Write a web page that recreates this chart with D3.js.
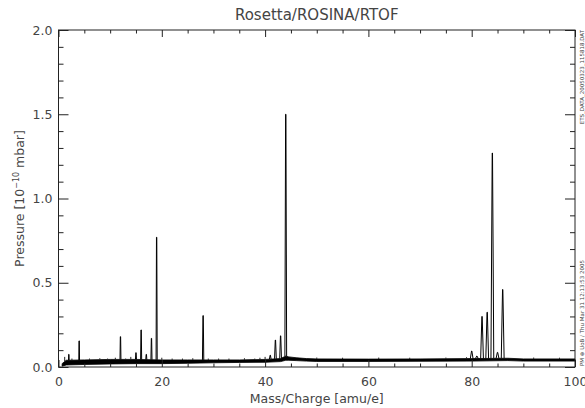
<!DOCTYPE html>
<html>
<head>
<meta charset="utf-8">
<title>Rosetta/ROSINA/RTOF</title>
<script src="https://cdn.jsdelivr.net/npm/d3@7"></script>
<style>
  body { margin: 0; background: #fff; }
  svg text { font-family: "DejaVu Sans", sans-serif; fill: #444; }
</style>
</head>
<body>
<script>
    // baseline noise band (mass, lower edge, upper edge)
    var baseMass = [0.7, 1.5, 5, 10, 15, 20, 25, 30, 35, 40, 43, 44, 44.6, 46, 48, 50, 60, 70, 80, 87, 90, 100];
    var baseLo   = [0.005, 0.012, 0.015, 0.018, 0.02, 0.02, 0.022, 0.025, 0.027, 0.028, 0.032, 0.04, 0.04, 0.038, 0.035, 0.033, 0.033, 0.034, 0.035, 0.038, 0.035, 0.035];
    var baseHi   = [0.02, 0.04, 0.042, 0.045, 0.045, 0.042, 0.042, 0.042, 0.042, 0.045, 0.05, 0.065, 0.06, 0.055, 0.05, 0.048, 0.047, 0.048, 0.05, 0.052, 0.048, 0.048];

    // main peaks
    var peakMass   = [2, 4, 12, 15, 16, 17, 18, 19, 28, 41, 42, 43, 44, 80, 81, 82, 83, 84, 85, 86];
    var peakHeight = [0.075, 0.155, 0.18, 0.085, 0.22, 0.075, 0.17, 0.77, 0.305, 0.07, 0.16, 0.185, 1.5, 0.095, 0.065, 0.30, 0.325, 1.27, 0.087, 0.46];

    // small noise spikes sticking out of the baseline
    var spikeMass   = [1.2, 2.6, 6, 8, 9.5, 11, 13, 14, 20, 22, 24, 26, 29, 31, 33, 36, 38, 39, 40, 50, 55, 62, 68, 75, 79, 92, 97];
    var spikeHeight = [0.06, 0.05, 0.05, 0.052, 0.05, 0.055, 0.05, 0.06, 0.055, 0.05, 0.05, 0.052, 0.05, 0.05, 0.05, 0.052, 0.05, 0.055, 0.06, 0.056, 0.055, 0.056, 0.055, 0.056, 0.058, 0.056, 0.055];

    var xMajor = [0, 20, 40, 60, 80, 100];
    var yMajor = [0, 0.5, 1.0, 1.5, 2.0];

    var svgWidth = 585, svgHeight = 408;
    var plotLeft = 58.5, plotRight = 575, plotTop = 30, plotBottom = 367;

    var x = d3.scaleLinear().domain([0, 100]).range([plotLeft, plotRight]);
    var y = d3.scaleLinear().domain([0, 2]).range([plotBottom, plotTop]);

    var svg = d3.select("body").append("svg")
        .attr("width", svgWidth)
        .attr("height", svgHeight);

    var xMinor = d3.range(0, 101, 5).filter(function(d) { return d % 20 !== 0; });
    var yMinor = d3.range(0, 21).map(function(d) { return d / 10; })
        .filter(function(d) { return Math.round(d * 10) % 5 !== 0; });

    function baseAt(m, arr) {
        return d3.scaleLinear().domain(baseMass).range(arr)(m);
    }

    // baseline band
    var band = d3.area()
        .x(function(d, i) { return x(baseMass[i]); })
        .y0(function(d, i) { return y(baseLo[i]); })
        .y1(function(d, i) { return y(baseHi[i]); });
    svg.append("path")
        .attr("d", band(baseMass))
        .attr("fill", "#000")
        .attr("stroke", "#000")
        .attr("stroke-width", 0.8);

    // spikes
    svg.append("g").selectAll("line")
        .data(spikeMass)
        .enter().append("line")
        .attr("x1", function(d) { return x(d); })
        .attr("x2", function(d) { return x(d); })
        .attr("y1", function(d) { return y(baseAt(d, baseHi)); })
        .attr("y2", function(d, i) { return y(spikeHeight[i]); })
        .attr("stroke", "#222")
        .attr("stroke-width", 1);

    // peaks
    var line = d3.line().x(function(d) { return x(d[0]); }).y(function(d) { return y(d[1]); });
    svg.append("g").selectAll("path")
        .data(peakMass)
        .enter().append("path")
        .attr("d", function(m, i) {
            var w = 0.06 + 0.0025 * m;
            var b = baseAt(m, baseHi);
            return line([[m - w, b], [m - 0.03, peakHeight[i]], [m + 0.03, peakHeight[i]], [m + w, b]]);
        })
        .attr("fill", "none")
        .attr("stroke", "#000")
        .attr("stroke-width", 1);

    // frame
    svg.append("rect")
        .attr("x", plotLeft).attr("y", plotTop)
        .attr("width", plotRight - plotLeft).attr("height", plotBottom - plotTop)
        .attr("fill", "none").attr("stroke", "#222").attr("stroke-width", 1);

    function styleAxis(g) {
        g.select(".domain").remove();
        g.selectAll("line").attr("stroke", "#222");
        g.selectAll("text").attr("font-size", 12.5).attr("font-family", "DejaVu Sans").attr("fill", "#444");
    }

    // bottom / top x axes
    svg.append("g").attr("transform", "translate(0," + plotBottom + ")")
        .call(d3.axisBottom(x).tickValues(xMajor).tickSize(-7).tickPadding(10).tickFormat(d3.format("d")))
        .call(styleAxis);
    svg.append("g").attr("transform", "translate(0," + plotBottom + ")")
        .call(d3.axisBottom(x).tickValues(xMinor).tickSize(-3.5).tickFormat(""))
        .call(styleAxis);
    svg.append("g").attr("transform", "translate(0," + plotTop + ")")
        .call(d3.axisTop(x).tickValues(xMajor).tickSize(-7).tickFormat(""))
        .call(styleAxis);
    svg.append("g").attr("transform", "translate(0," + plotTop + ")")
        .call(d3.axisTop(x).tickValues(xMinor).tickSize(-3.5).tickFormat(""))
        .call(styleAxis);

    // left / right y axes
    svg.append("g").attr("transform", "translate(" + plotLeft + ",0)")
        .call(d3.axisLeft(y).tickValues(yMajor).tickSize(-10).tickPadding(6).tickFormat(d3.format(".1f")))
        .call(styleAxis);
    svg.append("g").attr("transform", "translate(" + plotLeft + ",0)")
        .call(d3.axisLeft(y).tickValues(yMinor).tickSize(-5).tickFormat(""))
        .call(styleAxis);
    svg.append("g").attr("transform", "translate(" + plotRight + ",0)")
        .call(d3.axisRight(y).tickValues(yMajor).tickSize(-10).tickFormat(""))
        .call(styleAxis);
    svg.append("g").attr("transform", "translate(" + plotRight + ",0)")
        .call(d3.axisRight(y).tickValues(yMinor).tickSize(-5).tickFormat(""))
        .call(styleAxis);

    // titles
    svg.append("text")
        .attr("x", (plotLeft + plotRight) / 2).attr("y", 20)
        .attr("text-anchor", "middle").attr("font-size", 15)
        .text("Rosetta/ROSINA/RTOF");

    svg.append("text")
        .attr("x", (plotLeft + plotRight) / 2).attr("y", 403)
        .attr("text-anchor", "middle").attr("font-size", 12.5)
        .text("Mass/Charge [amu/e]");

    var yt = svg.append("text")
        .attr("transform", "translate(24," + (plotTop + plotBottom) / 2 + ") rotate(-90)")
        .attr("text-anchor", "middle").attr("font-size", 12.5);
    yt.append("tspan").text("Pressure [10");
    yt.append("tspan").attr("dy", -5).attr("font-size", 8).text("\u221210");
    yt.append("tspan").attr("dy", 5).text(" mbar]");

    // small side notes
    svg.append("text")
        .attr("transform", "translate(584,30) rotate(-90)")
        .attr("text-anchor", "end").attr("font-size", 5.5)
        .text("ETS_DATA_20050323_115818.DAT");
    svg.append("text")
        .attr("transform", "translate(584,366) rotate(-90)")
        .attr("text-anchor", "start").attr("font-size", 5.5)
        .text("PM \u2295 UoB / Thu Mar 31 12:13:53 2005");
</script>
</body>
</html>
